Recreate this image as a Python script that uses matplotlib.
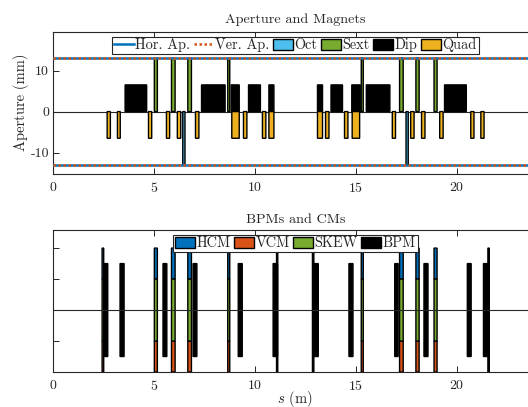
import numpy as np
import matplotlib
matplotlib.use('Agg')
import matplotlib.pyplot as plt

plt.rcParams['font.family'] = ['cmr10', 'DejaVu Serif']
plt.rcParams['mathtext.fontset'] = 'cm'
plt.rcParams['axes.unicode_minus'] = False
plt.rcParams['axes.formatter.use_mathtext'] = True

# magnet start / end positions (m)
quad_start = [2.67, 3.18, 4.72, 5.61, 6.15, 7.05, 8.85, 9.43, 10.37, 10.69, 13.10, 13.50, 14.44, 14.82, 16.81, 17.72, 18.26, 19.16, 20.70, 21.20]
quad_end = [2.83, 3.32, 4.88, 5.77, 6.32, 7.22, 9.22, 9.60, 10.54, 10.94, 13.35, 13.67, 14.61, 15.19, 16.97, 17.89, 18.43, 19.33, 20.86, 21.36]
dip_start = [3.56, 7.35, 8.82, 9.68, 10.69, 13.10, 13.77, 14.80, 15.52, 19.40]
dip_end = [4.63, 8.52, 9.22, 10.27, 10.94, 13.35, 14.34, 15.22, 16.69, 20.48]
sext_start = [5.01, 5.86, 6.67, 8.65, 15.27, 17.17, 17.98, 18.88]
sext_end = [5.16, 6.04, 6.85, 8.75, 15.37, 17.35, 18.14, 19.03]
oct_start = [6.42, 17.49]
oct_end = [6.53, 17.60]
quad_h = -6.5
dip_h = 6.5
sext_h = 13
oct_h = -13
aperture = 13

# correctors and bpms
cm_start = [2.42, 5.01, 5.86, 6.67, 8.65, 11.07, 12.85, 15.27, 17.17, 17.98, 18.88, 21.55]
cm_end = [2.50, 5.16, 6.04, 6.85, 8.75, 11.13, 12.92, 15.37, 17.35, 18.14, 19.03, 21.62]
bpm_start = [2.50, 3.31, 5.44, 6.93, 9.17, 10.90, 12.92, 14.66, 16.93, 18.38, 20.53, 21.33]
bpm_end = [2.70, 3.51, 5.63, 7.12, 9.37, 11.12, 13.14, 14.86, 17.10, 18.58, 20.72, 21.53]

BLUE = '#0072BD'
RED = '#D95319'
YEL = '#EDB120'
GRN = '#77AC30'
CYA = '#4DBEEE'
TXT = '#262626'

W, H = 528, 407
fig = plt.figure(figsize=(W/100, H/100), dpi=100)
# the axes run past the right edge of the figure, same as the original
ax1 = fig.add_axes([53.3/W, 1-174/H, 484/W, (174-31.5)/H])
ax2 = fig.add_axes([53.3/W, 1-372/H, 484/W, (372-229.5)/H])


def bars(ax, start, end, bottom, top, color, label=None, z=2):
    start = np.array(start)
    end = np.array(end)
    cont = ax.bar(start, top-bottom, width=end-start, bottom=bottom, align='edge',
                  color=color, edgecolor='k', linewidth=1, label=label, zorder=z)
    for p in cont:
        p.set_snap(False)


xmax = 24

# top panel
ax1.plot([0, xmax], [aperture, aperture], color=BLUE, lw=1.8, label='Hor. Ap.', zorder=3)
ax1.plot([0, xmax], [-aperture, -aperture], color=BLUE, lw=1.8, zorder=3)
ax1.plot([0, xmax], [aperture, aperture], color=RED, lw=1.8, ls=(0, (1, 1)), label='Ver. Ap.', zorder=4)
ax1.plot([0, xmax], [-aperture, -aperture], color=RED, lw=1.8, ls=(0, (1, 1)), zorder=4)
bars(ax1, oct_start, oct_end, 0, oct_h, CYA, 'Oct')
bars(ax1, sext_start, sext_end, 0, sext_h, GRN, 'Sext')
bars(ax1, dip_start, dip_end, 0, dip_h, 'k', 'Dip')
bars(ax1, quad_start, quad_end, quad_h, 0, YEL, 'Quad')
ax1.axhline(0, color=TXT, lw=0.8, zorder=1)
ax1.set_ylim(-15.2, 19.5)
ax1.set_yticks([-10, 0, 10])
ax1.set_yticklabels(['-10', '0', '10'])
ax1.set_ylabel('Aperture (mm)', fontsize=10.5, color=TXT, labelpad=1)
ax1.set_title('Aperture and Magnets', fontsize=10.2, color=TXT, pad=6)

# bottom panel
bars(ax2, cm_start, cm_end, 1, 2, BLUE, 'HCM')
bars(ax2, cm_start, cm_end, -2, -1, RED, 'VCM')
bars(ax2, cm_start, cm_end, -1, 1, GRN, 'SKEW')
bars(ax2, bpm_start, bpm_end, -1.5, 1.5, 'k', 'BPM', z=3)
ax2.axhline(0, color=TXT, lw=0.8, zorder=4)
ax2.set_ylim(-2, 2.6)
ax2.set_yticks([-2, -1, 0, 1, 2])
ax2.set_yticklabels([])
ax2.set_xlabel('$s$ (m)', fontsize=10.5, color=TXT, labelpad=-3)
ax2.set_title('BPMs and CMs', fontsize=10.2, color=TXT, pad=5)

for ax in (ax1, ax2):
    ax.set_xlim(0, xmax)
    ax.set_xticks([0, 5, 10, 15, 20])
    ax.tick_params(direction='in', top=True, right=False, length=4, width=0.7,
                   labelsize=10, colors=TXT)
    ax.tick_params(axis='x', pad=5)
    ax.tick_params(axis='y', pad=3)
    for s in ax.spines.values():
        s.set_linewidth(0.8)
        s.set_color(TXT)

leg_kw = dict(fontsize=10.3, frameon=True, fancybox=False, framealpha=1, edgecolor=TXT,
              borderpad=0.12, labelspacing=0.2, handlelength=1.4, handleheight=0.8,
              handletextpad=0.1, columnspacing=0.25, borderaxespad=0, loc='upper center')
l1 = ax1.legend(ncol=6, bbox_to_anchor=(0.5, 1-5/142.5), **leg_kw)
l2 = ax2.legend(ncol=4, bbox_to_anchor=(0.5, 1-5.5/142.5), **leg_kw)
for l in (l1, l2):
    l.get_frame().set_linewidth(0.8)
    for t in l.get_texts():
        t.set_color(TXT)

fig.savefig('out.png', dpi=100)
